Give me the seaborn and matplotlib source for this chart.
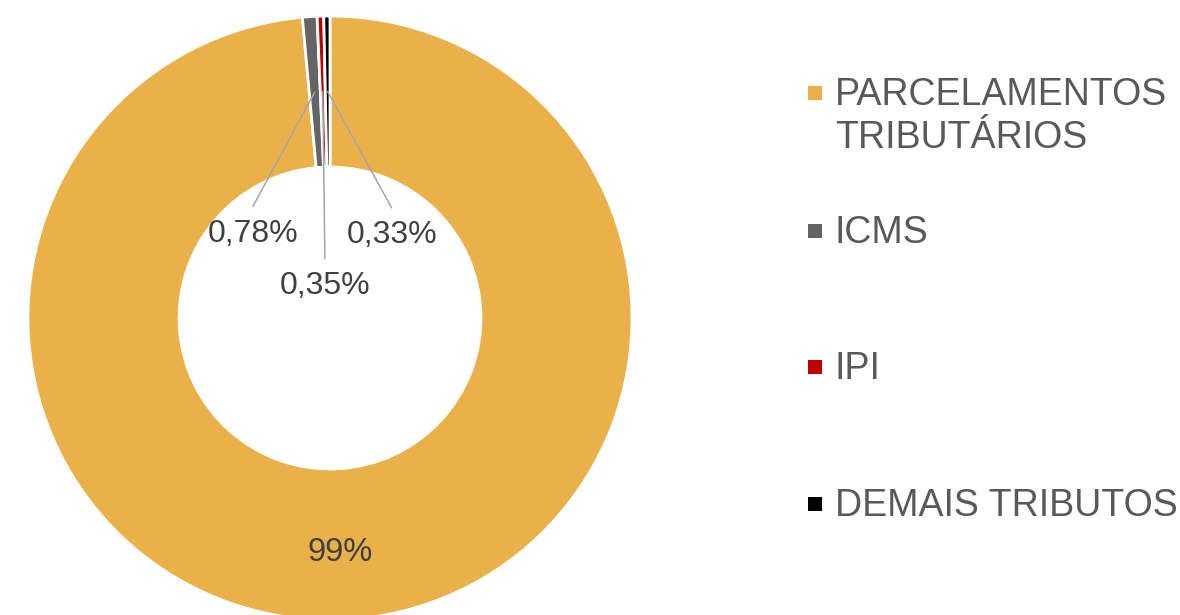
import matplotlib
matplotlib.use("Agg")
import matplotlib.pyplot as plt
import seaborn as sns
import numpy as np
from matplotlib.patches import Rectangle

# data
categories = ["PARCELAMENTOS\nTRIBUTÁRIOS", "ICMS", "IPI", "DEMAIS TRIBUTOS"]
values = [98.54, 0.78, 0.35, 0.33]
pct_labels = ["99%", "0,78%", "0,35%", "0,33%"]
colors = ["#EAB049", "#646464", "#C00000", "#000000"]

sns.set_theme(style="white")
plt.rcParams["font.family"] = ["Liberation Sans", "DejaVu Sans"]

W, H = 1180, 615
fig = plt.figure(figsize=(W / 100, H / 100), dpi=100)
fig.patch.set_facecolor("white")

# donut axes: center (330, 318) px, radius 302 px
cx, cy, R = 330, 318, 302
ax = fig.add_axes([(cx - R) / W, (H - cy - R) / H, 2 * R / W, 2 * R / H])
wedges, _ = ax.pie(values, colors=colors, startangle=90, counterclock=False,
                   radius=1, wedgeprops=dict(width=0.5, edgecolor="white", linewidth=2))
ax.set_xlim(-1, 1)
ax.set_ylim(-1, 1)
ax.axis("off")

# label positions for the small slices (data coords), None = inside the ring
label_pos = [None, (-0.255, 0.29), (-0.017, 0.116), (0.204, 0.285)]

for w, lab, pos in zip(wedges, pct_labels, label_pos):
    mid = np.deg2rad((w.theta1 + w.theta2) / 2)
    if pos is None:
        r = 0.765
        ax.text(r * np.cos(mid), r * np.sin(mid), lab, ha="center",
                va="center_baseline", fontsize=23.5, color="#404040")
    else:
        r = 0.75
        px, py = r * np.cos(mid), r * np.sin(mid)
        lx, ly = pos
        ax.plot([px, lx], [py, ly + 0.08], color="#A6A6A6", lw=1.1)
        ax.text(lx, ly, lab, ha="center", va="center_baseline", fontsize=23,
                color="#404040")

# legend drawn by hand
leg_baselines = [105, 243, 379, 516]
for name, col, base in zip(categories, colors, leg_baselines):
    fig.patches.append(Rectangle((808 / W, 1 - (base - 5) / H), 14 / W, 14 / H,
                                 transform=fig.transFigure, facecolor=col,
                                 edgecolor="none"))
    for i, line in enumerate(name.split("\n")):
        fig.text(835 / W, 1 - (base + i * 43) / H, line, ha="left", va="baseline",
                 fontsize=27, color="#595959")

fig.savefig("out.png", dpi=100, facecolor="white")
